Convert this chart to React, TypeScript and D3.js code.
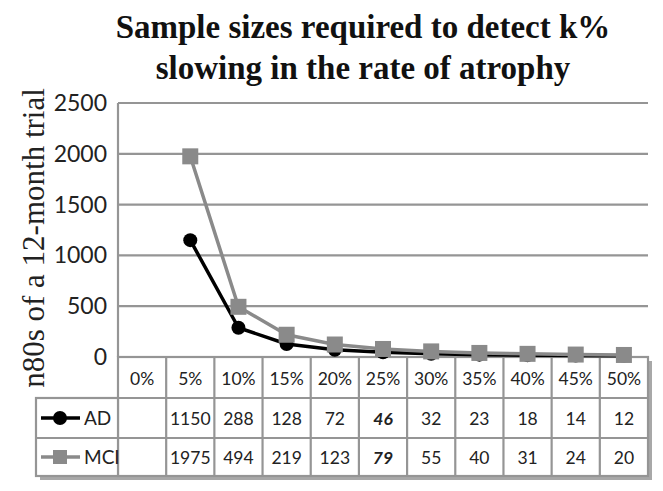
import * as d3 from "d3";

const categories = ["0%", "5%", "10%", "15%", "20%", "25%", "30%", "35%", "40%", "45%", "50%"];
const adValues: (number | null)[] = [null, 1150, 288, 128, 72, 46, 32, 23, 18, 14, 12];
const mciValues: (number | null)[] = [null, 1975, 494, 219, 123, 79, 55, 40, 31, 24, 20];
const yTicks = [0, 500, 1000, 1500, 2000, 2500];
const boldCategory = "25%";

const W = 663;
const H = 491;
const plot = { left: 118, right: 648, top: 103, bottom: 357 };
const legendLeft = 36;
const rowH = [41, 40, 38];

const sans = "Lato, 'Liberation Sans', sans-serif";
const serif = "'Liberation Serif', 'Times New Roman', serif";
const gridColor = "#959595";
const mciColor = "#8a8a8a";

const x = d3.scaleBand<string>().domain(categories).range([plot.left, plot.right]).padding(0);
const y = d3.scaleLinear().domain([0, 2500]).range([plot.bottom, plot.top]);

type Pt = { c: string; v: number | null };

function makeLine(vals: (number | null)[]) {
  const pts: Pt[] = categories.map((c, i) => ({ c, v: vals[i] }));
  const line = d3
    .line<Pt>()
    .defined((d) => d.v != null)
    .x((d) => (x(d.c) ?? 0) + x.bandwidth() / 2)
    .y((d) => y(d.v as number));
  return { pts: pts.filter((p) => p.v != null), d: line(pts) ?? "" };
}

export default function App() {
  const ad = makeLine(adValues);
  const mci = makeLine(mciValues);
  const bw = x.bandwidth();
  const r0 = plot.bottom;
  const r1 = r0 + rowH[0];
  const r2 = r1 + rowH[1];
  const r3 = r2 + rowH[2];

  const rows = [
    { name: "AD", vals: adValues, top: r1, h: rowH[1] },
    { name: "MCI", vals: mciValues, top: r2, h: rowH[2] },
  ];

  return (
    <svg width={W} height={H} viewBox={`0 0 ${W} ${H}`} style={{ position: "absolute", left: 0, top: 0, background: "#fff" }}>
      {/* Title */}
      <g fontFamily={serif} fontWeight="bold" fontSize={33} textAnchor="middle" fill="#111">
        <text x={363} y={38}>Sample sizes required to detect k%</text>
        <text x={363} y={79}>slowing in the rate of atrophy</text>
      </g>

      {/* Y axis title */}
      <text
        transform={`translate(44, 238) rotate(-90)`}
        textAnchor="middle"
        fontFamily={serif}
        fontSize={31}
        fill="#222"
      >
        n80s of a 12-month trial
      </text>

      {/* Grid */}
      <g stroke={gridColor} strokeWidth={2.2}>
        {yTicks.map((t) => (
          <line key={t} x1={plot.left} x2={plot.right} y1={y(t)} y2={y(t)} />
        ))}
        <line x1={plot.left} x2={plot.left} y1={plot.top} y2={plot.bottom} />
      </g>

      {/* Y tick labels */}
      <g fontFamily={sans} fontSize={23} textAnchor="end" fill="#222">
        {yTicks.map((t) => (
          <text key={t} x={107} y={y(t) + 8}>
            {t}
          </text>
        ))}
      </g>

      {/* Table shadow */}
      <g fill="#a8a8a8">
        <rect x={plot.right} y={r0 + 4} width={4} height={r3 - r0} />
        <rect x={legendLeft + 4} y={r3} width={plot.right - legendLeft} height={4} />
      </g>

      {/* Table */}
      <g stroke={gridColor} strokeWidth={2.2} fill="none">
        <rect x={plot.left} y={r0} width={plot.right - plot.left} height={r3 - r0} fill="#fff" />
        <rect x={legendLeft} y={r1} width={plot.left - legendLeft} height={r3 - r1} fill="#fff" />
        <line x1={legendLeft} x2={plot.right} y1={r1} y2={r1} />
        <line x1={legendLeft} x2={plot.right} y1={r2} y2={r2} />
        {categories.slice(1).map((c) => (
          <line key={c} x1={x(c)} x2={x(c)} y1={r0} y2={r3} />
        ))}
      </g>

      {/* Header row */}
      <g fontFamily={sans} fontSize={17.5} textAnchor="middle" fill="#222">
        {categories.map((c) => (
          <text key={c} x={(x(c) ?? 0) + bw / 2} y={r0 + rowH[0] / 2 + 7}>
            {c}
          </text>
        ))}
      </g>

      {/* Data rows */}
      {rows.map((row) => (
        <g key={row.name} fontFamily={sans} fontSize={17.5} textAnchor="middle" fill="#222">
          {row.vals.map((v, i) =>
            v == null ? null : (
              <text
                key={i}
                x={(x(categories[i]) ?? 0) + bw / 2}
                y={row.top + row.h / 2 + 7}
                fontWeight={categories[i] === boldCategory ? "bold" : "normal"}
                fontStyle={categories[i] === boldCategory ? "italic" : "normal"}
              >
                {v}
              </text>
            )
          )}
          <text x={84} y={row.top + row.h / 2 + 7} textAnchor="start" fontSize={19}>
            {row.name}
          </text>
        </g>
      ))}

      {/* Legend keys */}
      <g>
        <line x1={41} x2={80} y1={r1 + rowH[1] / 2} y2={r1 + rowH[1] / 2} stroke="#000" strokeWidth={3.5} />
        <circle cx={60} cy={r1 + rowH[1] / 2} r={7} fill="#000" />
        <line x1={41} x2={80} y1={r2 + rowH[2] / 2} y2={r2 + rowH[2] / 2} stroke={mciColor} strokeWidth={3.5} />
        <rect x={53} y={r2 + rowH[2] / 2 - 7} width={14} height={14} fill={mciColor} />
      </g>

      {/* Series */}
      <path d={ad.d} fill="none" stroke="#000" strokeWidth={3.5} strokeLinejoin="round" />
      {ad.pts.map((p) => (
        <circle key={p.c} cx={(x(p.c) ?? 0) + bw / 2} cy={y(p.v as number)} r={7} fill="#000" />
      ))}
      <path d={mci.d} fill="none" stroke={mciColor} strokeWidth={3.5} strokeLinejoin="round" />
      {mci.pts.map((p) => (
        <rect
          key={p.c}
          x={(x(p.c) ?? 0) + bw / 2 - 8}
          y={y(p.v as number) - 8}
          width={16}
          height={16}
          fill={mciColor}
        />
      ))}
    </svg>
  );
}
